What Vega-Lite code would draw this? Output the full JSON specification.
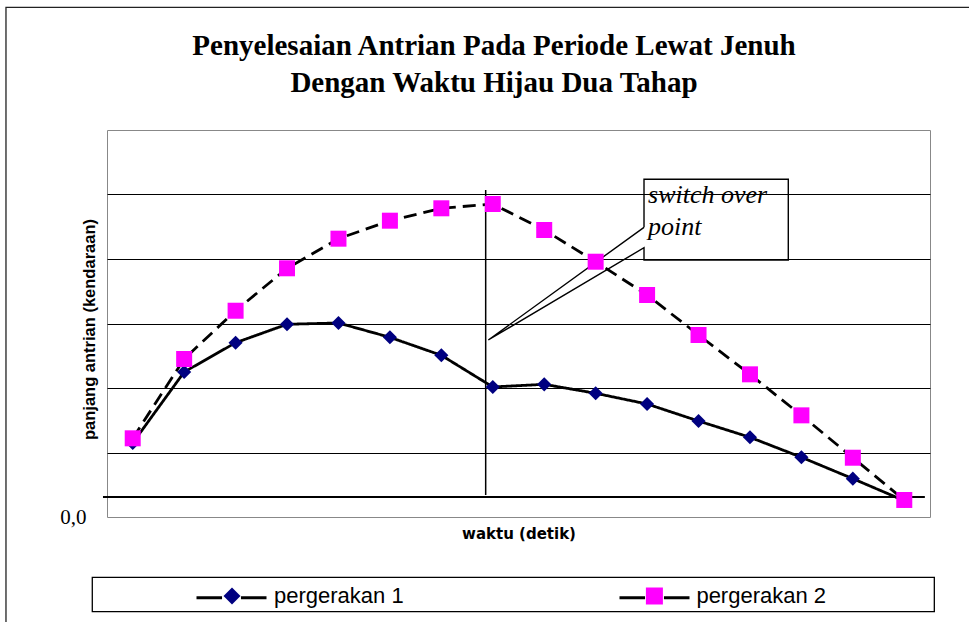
{
  "$schema": "https://vega.github.io/schema/vega-lite/v6.json",
  "autosize": "none",
  "width": 823,
  "height": 387,
  "padding": {"left": 107, "top": 130, "right": 39, "bottom": 105},
  "background": "white",
  "config": {
    "view": {"stroke": "#888888", "strokeWidth": 1},
    "axis": {"labelColor": "black", "titleColor": "black"}
  },
  "title": {
    "text": ["Penyelesaian Antrian Pada Periode Lewat Jenuh", "Dengan Waktu Hijau Dua Tahap"],
    "font": "Liberation Serif",
    "fontSize": 29,
    "fontWeight": "bold",
    "color": "black",
    "anchor": "middle",
    "frame": "group",
    "dx": -24.5,
    "offset": -93,
    "lineHeight": 36.4
  },
  "datasets": {
    "series": [
      {"t": 1, "series": "pergerakan 1", "q": 1.147},
      {"t": 2, "series": "pergerakan 1", "q": 2.248},
      {"t": 3, "series": "pergerakan 1", "q": 2.702},
      {"t": 4, "series": "pergerakan 1", "q": 2.988},
      {"t": 5, "series": "pergerakan 1", "q": 3.008},
      {"t": 6, "series": "pergerakan 1", "q": 2.786},
      {"t": 7, "series": "pergerakan 1", "q": 2.507},
      {"t": 8, "series": "pergerakan 1", "q": 2.016},
      {"t": 9, "series": "pergerakan 1", "q": 2.057},
      {"t": 10, "series": "pergerakan 1", "q": 1.918},
      {"t": 11, "series": "pergerakan 1", "q": 1.752},
      {"t": 12, "series": "pergerakan 1", "q": 1.488},
      {"t": 13, "series": "pergerakan 1", "q": 1.236},
      {"t": 14, "series": "pergerakan 1", "q": 0.926},
      {"t": 15, "series": "pergerakan 1", "q": 0.594},
      {"t": 16, "series": "pergerakan 1", "q": 0.253},
      {"t": 1, "series": "pergerakan 2", "q": 1.220},
      {"t": 2, "series": "pergerakan 2", "q": 2.450},
      {"t": 3, "series": "pergerakan 2", "q": 3.198},
      {"t": 4, "series": "pergerakan 2", "q": 3.856},
      {"t": 5, "series": "pergerakan 2", "q": 4.315},
      {"t": 6, "series": "pergerakan 2", "q": 4.594},
      {"t": 7, "series": "pergerakan 2", "q": 4.786},
      {"t": 8, "series": "pergerakan 2", "q": 4.853},
      {"t": 9, "series": "pergerakan 2", "q": 4.450},
      {"t": 10, "series": "pergerakan 2", "q": 3.958},
      {"t": 11, "series": "pergerakan 2", "q": 3.442},
      {"t": 12, "series": "pergerakan 2", "q": 2.822},
      {"t": 13, "series": "pergerakan 2", "q": 2.212},
      {"t": 14, "series": "pergerakan 2", "q": 1.576},
      {"t": 15, "series": "pergerakan 2", "q": 0.919},
      {"t": 16, "series": "pergerakan 2", "q": 0.264}
    ],
    "frame": [
      {"i": 1, "t": -1.464, "q": -2},
      {"i": 2, "t": -1.464, "q": 7.902},
      {"i": 3, "t": 17.5, "q": 7.902}
    ],
    "legendBox": [
      {"t": 0.214, "t2": 16.584, "q": -0.935, "q2": -1.468}
    ],
    "zeroLine": [
      {"t": 0.422, "t2": 16.40, "q": 0.310}
    ],
    "switchLine": [
      {"t": 7.862, "q": 0.341, "q2": 5.070}
    ],
    "callout": [
      {"i": 1, "t": 10.940, "q": 4.491},
      {"i": 2, "t": 7.913, "q": 2.744},
      {"i": 3, "t": 10.940, "q": 4.175},
      {"i": 4, "t": 10.940, "q": 3.984},
      {"i": 5, "t": 13.745, "q": 3.984},
      {"i": 6, "t": 13.745, "q": 5.236},
      {"i": 7, "t": 10.940, "q": 5.236},
      {"i": 8, "t": 10.940, "q": 4.491}
    ],
    "notes": [
      {"t": 11.018, "q": 4.868, "label": "switch over"},
      {"t": 11.018, "q": 4.372, "label": "point"}
    ]
  },
  "encoding": {
    "x": {"field": "t", "type": "quantitative", "scale": {"domain": [0.5, 16.5], "nice": false, "zero": false},
      "axis": {"title": "waktu (detik)", "labels": false, "ticks": false, "domain": false, "grid": false,
        "titleFont": "DejaVu Sans", "titleFontSize": 15, "titleFontWeight": "bold", "titleBaseline": "alphabetic", "titleY": 21.6}},
    "y": {"field": "q", "type": "quantitative", "scale": {"domain": [0, 6], "nice": false, "zero": false},
      "axis": {"title": "panjang antrian (kendaraan)", "values": [0, 1, 2, 3, 4, 5], "domain": false, "ticks": false,
        "grid": true, "gridColor": {"condition": {"test": "datum.value === 0", "value": "transparent"}, "value": "black"}, "gridWidth": 1,
        "labelExpr": "datum.value === 0 ? '0,0' : ''", "labelFont": "Liberation Serif", "labelFontSize": 21, "labelPadding": 21, "labelBaseline": "middle",
        "titleFont": "Liberation Sans", "titleFontSize": 16.5, "titleFontWeight": "bold", "titleAngle": 270, "titleBaseline": "middle", "titleAlign": "center", "titleX": -17.7, "titleY": 199}}
  },
  "layer": [
    {
      "data": {"name": "frame"},
      "mark": {"type": "line", "color": "#222222", "strokeWidth": 1.3},
      "encoding": {"order": {"field": "i"}}
    },
    {
      "data": {"name": "legendBox"},
      "mark": {"type": "rect", "fill": "white", "stroke": "black", "strokeWidth": 1.3},
      "encoding": {"x2": {"field": "t2"}, "y2": {"field": "q2"}}
    },
    {
      "data": {"name": "zeroLine"},
      "mark": {"type": "rule", "color": "black", "strokeWidth": 2},
      "encoding": {"x2": {"field": "t2"}}
    },
    {
      "data": {"name": "switchLine"},
      "mark": {"type": "rule", "color": "black", "strokeWidth": 1.5},
      "encoding": {"y2": {"field": "q2"}}
    },
    {
      "data": {"name": "callout"},
      "mark": {"type": "line", "color": "black", "strokeWidth": 1.4},
      "encoding": {"order": {"field": "i"}}
    },
    {
      "data": {"name": "notes"},
      "mark": {"type": "text", "font": "Liberation Serif", "fontStyle": "italic", "fontSize": 26, "align": "left", "baseline": "alphabetic", "color": "black"},
      "encoding": {"text": {"field": "label"}}
    },
    {
      "data": {"name": "series"},
      "mark": {"type": "line", "strokeWidth": 2.8, "strokeCap": "butt"},
      "encoding": {
        "stroke": {"field": "series", "type": "nominal",
          "scale": {"domain": ["pergerakan 1", "pergerakan 2"], "range": ["black", "black"]},
          "legend": {"orient": "none", "legendX": 88, "legendY": 431, "direction": "horizontal", "title": null, "padding": 0,
            "symbolType": "M-1,0H-0.27M0.27,0H1", "symbolSize": 4900, "symbolStrokeWidth": 3, "symbolStrokeColor": "black",
            "labelExpr": "''", "labelFontSize": 22, "labelOffset": 0, "columnPadding": 340}},
        "strokeDash": {"field": "series", "type": "nominal", "scale": {"range": [[1, 0], [13, 7]]}, "legend": null}
      }
    },
    {
      "data": {"name": "series"},
      "mark": {"type": "point", "filled": true, "opacity": 1, "strokeWidth": 0},
      "encoding": {
        "fill": {"field": "series", "type": "nominal", "scale": {"range": ["#000080", "#FF00FF"]},
          "legend": {"orient": "none", "legendX": 114, "legendY": 455, "direction": "horizontal", "title": null, "padding": 0,
            "symbolSize": 289, "symbolStrokeWidth": 0, "symbolOpacity": 1,
            "labelFont": "Liberation Sans", "labelFontSize": 22, "labelColor": "black", "labelOffset": 31, "columnPadding": 239.4}},
        "shape": {"field": "series", "type": "nominal", "scale": {"range": ["diamond", "square"]}},
        "size": {"condition": {"test": "datum.series === 'pergerakan 2'", "value": 256}, "value": 200}
      }
    }
  ]
}
